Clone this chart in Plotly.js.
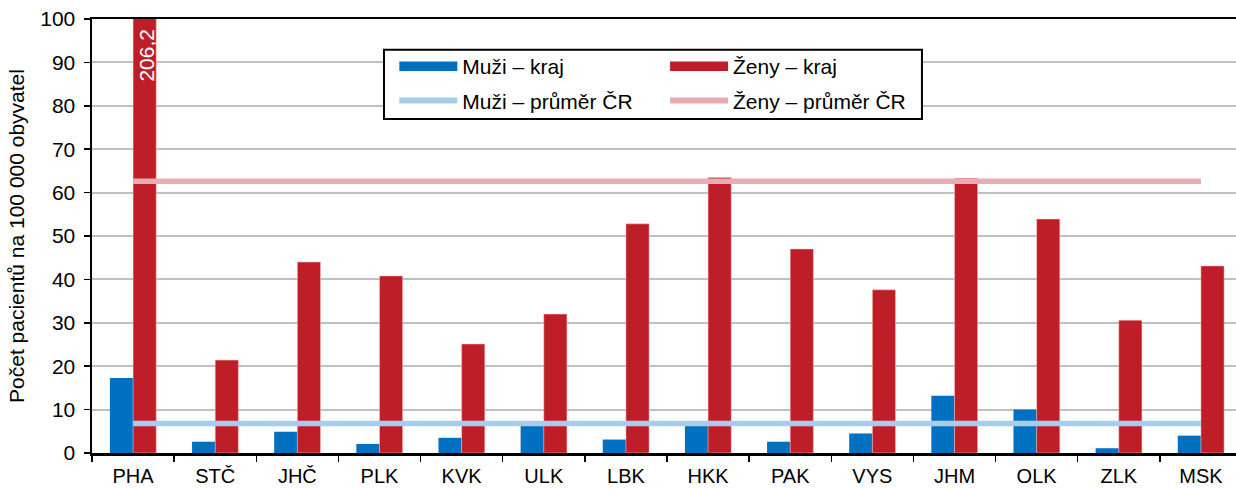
<!DOCTYPE html>
<html><head><meta charset="utf-8">
<script src="https://cdn.plot.ly/plotly-3.0.1.min.js"></script>
<style>html,body{margin:0;padding:0;overflow:hidden;background:#fff}#chart{width:1250px;height:489px}</style>
</head><body><div id="chart"></div>
<script>
const categories = ["PHA","STČ","JHČ","PLK","KVK","ULK","LBK","HKK","PAK","VYS","JHM","OLK","ZLK","MSK"];
const menRegion = [17.3, 2.6, 4.9, 2.1, 3.5, 7.0, 3.1, 7.0, 2.6, 4.5, 13.2, 10.0, 1.1, 4.0];
const womenRegion = [206.2, 21.4, 44.0, 40.8, 25.1, 32.0, 52.8, 63.5, 47.0, 37.6, 63.3, 53.9, 30.6, 43.1];
const menAvgCR = 6.8;
const womenAvgCR = 62.6;
const yTicks = [0,10,20,30,40,50,60,70,80,90,100];

const cBlue = "#0070c0", cRed = "#be1e28", cLBlue = "#a7cdeb", cPink = "#e8adb2";
const font = "Liberation Sans, Arial, sans-serif";
const fs = 21;

const traces = [
  {type:"bar", x:categories, y:menRegion, name:"Muži – kraj", marker:{color:cBlue}, showlegend:false, hoverinfo:"x+y"},
  {type:"bar", x:categories, y:womenRegion, name:"Ženy – kraj", marker:{color:cRed, line:{color:"rgba(255,200,200,0.5)", width:1}}, showlegend:false, hoverinfo:"x+y"},
  {type:"scatter", mode:"lines", x:categories, y:categories.map(()=>menAvgCR), name:"Muži – průměr ČR", line:{color:cLBlue, width:5.5}, showlegend:false},
  {type:"scatter", mode:"lines", x:categories, y:categories.map(()=>womenAvgCR), name:"Ženy – průměr ČR", line:{color:cPink, width:5.5}, showlegend:false},
  // legend entries
  {type:"scatter", mode:"lines", x:[null], y:[null], name:"Muži – kraj", line:{color:cBlue, width:9.5}, legend:"legend", legendgroup:"a", hoverinfo:"skip"},
  {type:"scatter", mode:"lines", x:[null], y:[null], name:"Muži – průměr ČR", line:{color:cLBlue, width:6}, legend:"legend", legendgroup:"b", hoverinfo:"skip"},
  {type:"scatter", mode:"lines", x:[null], y:[null], name:"Ženy – kraj", line:{color:cRed, width:9.5}, legend:"legend2", legendgroup:"c", hoverinfo:"skip"},
  {type:"scatter", mode:"lines", x:[null], y:[null], name:"Ženy – průměr ČR", line:{color:cPink, width:6}, legend:"legend2", legendgroup:"d", hoverinfo:"skip"}
];

const legendCommon = {orientation:"v", xanchor:"left", yanchor:"top", font:{family:font, size:fs, color:"#000"},
  bgcolor:"rgba(0,0,0,0)", borderwidth:0, itemwidth:58, traceorder:"grouped", tracegroupgap:4};

const layout = {
  width:1250, height:489,
  margin:{l:92, r:8, t:19, b:36},
  paper_bgcolor:"#fff", plot_bgcolor:"#fff",
  barmode:"group", bargap:0.436, bargroupgap:0,
  font:{family:font, size:fs, color:"#000"},
  xaxis:{type:"category", categoryorder:"array", categoryarray:categories,
    showline:true, linecolor:"#000", linewidth:2.5, mirror:true,
    ticks:"outside", tickson:"boundaries", ticklen:6, tickwidth:1.5, tickcolor:"#000",
    tickfont:{family:font, size:20}, ticklabelstandoff:3, showgrid:false, fixedrange:true},
  yaxis:{range:[0,100], tickvals:yTicks, ticktext:yTicks.map(String),
    showline:true, linecolor:"#000", linewidth:2.5,
    ticks:"outside", ticklen:6, tickwidth:1.5, tickcolor:"#000",
    showgrid:true, gridcolor:"#c0c0c0", gridwidth:2, zeroline:false,
    tickfont:{family:font, size:fs}, ticklabelstandoff:4,
    title:{text:"Počet pacientů na 100 000 obyvatel", font:{family:font, size:fs}, standoff:10}, fixedrange:true},
  legend:Object.assign({x:0.2629, y:0.9375}, legendCommon),
  legend2:Object.assign({x:0.4983, y:0.9375}, legendCommon),
  shapes:[{type:"rect", xref:"paper", yref:"paper", x0:0.2539, x1:0.7217, y0:0.7696, y1:0.9293,
    fillcolor:"#fff", line:{color:"#000", width:2}, layer:"above"}],
  annotations:[{x:categories[0], y:100, xref:"x", yref:"y", text:String(womenRegion[0]).replace(".", ","),
    showarrow:false, textangle:-90, xanchor:"center", yanchor:"top", xshift:13, yshift:-8,
    font:{family:font, size:fs, color:"#fff"}}]
};

Plotly.newPlot("chart", traces, layout, {displayModeBar:false, staticPlot:true});
</script></body></html>
